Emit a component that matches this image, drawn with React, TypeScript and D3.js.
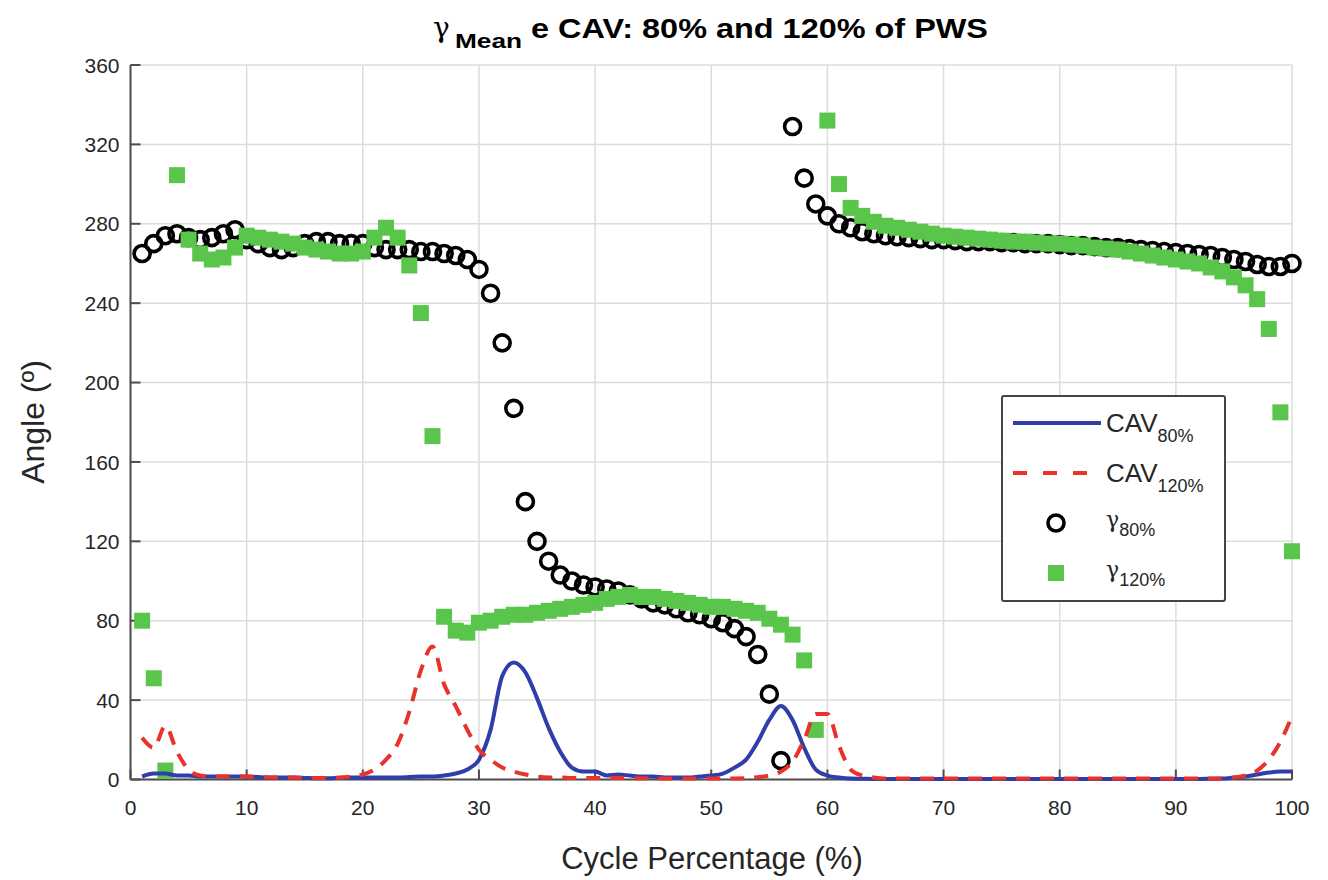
import React from "react";
import * as d3 from "d3";

const xTicks = [0, 10, 20, 30, 40, 50, 60, 70, 80, 90, 100];
const yTicks = [0, 40, 80, 120, 160, 200, 240, 280, 320, 360];

// cycle percentage 1..100
const cyclePct = d3.range(1, 101);

const cav80 = [
  1.5, 3, 3, 2, 2, 1.5, 1.5, 1.5, 1.5, 1.5,
  1.2, 1, 1, 1, 0.8, 0.6, 0.6, 0.8, 1, 1,
  1, 1, 1, 1.2, 1.5, 1.5, 2, 3, 5, 10,
  25, 52, 59, 54, 41, 26, 14, 6, 4, 4,
  2, 2.5, 2, 1.5, 1.5, 1, 1, 1, 1.5, 2,
  3, 6, 10, 19, 30, 37, 30, 16, 5, 2,
  1, 0.5, 0.4, 0.3, 0.3, 0.3, 0.3, 0.3, 0.3, 0.3,
  0.3, 0.3, 0.3, 0.3, 0.3, 0.3, 0.3, 0.3, 0.3, 0.3,
  0.3, 0.3, 0.3, 0.3, 0.3, 0.3, 0.3, 0.3, 0.3, 0.3,
  0.3, 0.3, 0.4, 0.5, 1, 1.5, 2.5, 3.5, 4, 4,
];

const cav120 = [
  21, 16, 27, 14, 5, 2, 1.5, 1.5, 1.5, 1.5,
  1.2, 1, 1, 1, 0.8, 0.8, 0.8, 1, 1.5, 2.5,
  5, 10, 18, 34, 55, 67, 48, 37, 25, 15,
  10, 6, 4, 2.5, 1.5, 1, 1, 0.8, 0.8, 0.8,
  0.8, 0.7, 0.7, 0.6, 0.6, 0.5, 0.5, 0.5, 0.5, 0.5,
  0.5, 0.5, 0.6, 1.2, 2, 4, 9, 20, 33, 33,
  17, 5, 2, 1, 0.5, 0.5, 0.5, 0.5, 0.5, 0.5,
  0.5, 0.5, 0.5, 0.5, 0.5, 0.5, 0.5, 0.5, 0.5, 0.5,
  0.5, 0.5, 0.5, 0.5, 0.5, 0.5, 0.5, 0.5, 0.5, 0.5,
  0.5, 0.5, 0.5, 0.5, 1, 2, 4.5, 10, 19, 32,
];

const gamma80 = [
  265, 270, 274, 275, 273, 272, 273, 275, 277, 272,
  270, 268, 267, 268, 270, 271, 271, 270, 270, 270,
  268, 267, 267, 267, 266, 266, 265, 264, 262, 257,
  245, 220, 187, 140, 120, 110, 103, 100, 98, 97,
  96, 95, 93, 91, 89, 88, 86, 84, 83, 81,
  79, 76, 72, 63, 43, 9.5, 329, 303, 290, 284,
  280, 278, 276, 275, 274, 273.5, 273, 272.5, 272, 272,
  271.5, 271, 271, 271, 270.5, 270.5, 270, 270, 270, 269.5,
  269, 269, 268.5, 268, 268, 267.5, 267, 266.5, 266, 265.5,
  265, 264.5, 264, 263, 262, 261, 259.5, 258.5, 258.5, 260,
];

const gamma120 = [
  80, 51, 4.5, 304.5, 272, 265, 262, 263, 268, 274,
  273, 272, 271, 270, 268, 267, 266, 265, 265, 266,
  273, 278, 273, 259, 235, 173, 82, 75, 74, 79,
  80, 82, 83, 83, 84, 85, 86, 87, 88, 89,
  91, 92, 93, 92, 92, 91, 90, 89, 88, 87,
  87, 86, 85, 84, 81, 78, 73, 60, 25, 332,
  300, 288, 284, 281, 279, 278, 277, 276, 275, 274,
  273.5, 273, 272.5, 272, 271.5, 271, 271, 270.5, 270, 270,
  269.5, 269, 268, 267.5, 267, 266, 265, 264, 263, 262,
  261, 260, 258, 256, 253, 249, 242, 227, 185, 115,
];

const BLUE = "#2f3ea8";
const RED = "#e8322b";
const GREEN = "#5ac54b";
const TXT = "#262626";

export default function App() {
  const x = d3.scaleLinear().domain([0, 100]).range([130.5, 1292]);
  const y = d3.scaleLinear().domain([0, 360]).range([779.5, 65]);

  const pts = (vals: number[]) => cyclePct.map((c, i) => [c, vals[i]] as [number, number]);
  const line = d3
    .line<[number, number]>()
    .x((d) => x(d[0]))
    .y((d) => y(d[1]))
    .curve(d3.curveMonotoneX);

  const font = "'Liberation Sans', Arial, sans-serif";
  const narrow = "'Liberation Sans Narrow', 'Arial Narrow', 'Liberation Sans', Arial, sans-serif";
  const serif = "'DejaVu Serif', 'Liberation Serif', serif";

  const lgX = 1002;
  const lgY = 396;
  const lgW = 223;
  const lgH = 205;
  const SQ = 16;

  return (
    <svg
      width={1328}
      height={880}
      style={{ position: "absolute", left: 0, top: 0, background: "#fff" }}
      fontFamily={font}
    >
      <rect x={0} y={0} width={1328} height={880} fill="#fff" />
      {/* grid */}
      <g stroke="#dcdcdc" strokeWidth={1.5}>
        {xTicks.map((t) => (
          <line key={"gx" + t} x1={x(t)} x2={x(t)} y1={y(360)} y2={y(0)} />
        ))}
        {yTicks.map((t) => (
          <line key={"gy" + t} x1={x(0)} x2={x(100)} y1={y(t)} y2={y(t)} />
        ))}
      </g>
      {/* axes */}
      <g stroke="#4d4d4d" strokeWidth={2}>
        <line x1={x(0)} x2={x(0)} y1={y(360)} y2={y(0)} />
        <line x1={x(0)} x2={x(100)} y1={y(0)} y2={y(0)} />
        {yTicks.map((t) => (
          <line key={"ty" + t} x1={x(0)} x2={x(0) + 10} y1={y(t)} y2={y(t)} />
        ))}
        {xTicks.map((t) => (
          <line key={"tx" + t} x1={x(t)} x2={x(t)} y1={y(0)} y2={y(0) - 10} />
        ))}
      </g>
      {/* tick labels */}
      <g fill={TXT} fontSize={21}>
        {yTicks.map((t) => (
          <text key={"ly" + t} x={x(0) - 11} y={y(t)} dy="0.36em" textAnchor="end">
            {t}
          </text>
        ))}
        {xTicks.map((t) => (
          <text key={"lx" + t} x={x(t)} y={y(0) + 35} textAnchor="middle">
            {t}
          </text>
        ))}
      </g>
      {/* axis labels */}
      <text x={712} y={869} textAnchor="middle" fontSize={31} fill={TXT}>
        Cycle Percentage (%)
      </text>
      <text
        transform={`translate(44,422) rotate(-90)`}
        textAnchor="middle"
        fontSize={32}
        fill={TXT}
      >
        Angle (º)
      </text>
      {/* title */}
      <g fill="#000" fontWeight="bold">
        <text x={433} y={37} fontSize={28} fontFamily={serif} fontWeight="normal">
          γ
        </text>
        <text x={455} y={48} fontSize={20} fontFamily={narrow} textLength={67} lengthAdjust="spacingAndGlyphs">
          Mean
        </text>
        <text x={531} y={38} fontSize={28} fontFamily={narrow} textLength={457} lengthAdjust="spacingAndGlyphs">
          e CAV: 80% and 120% of PWS
        </text>
      </g>
      {/* data */}
      <g>
        {cyclePct.map((c, i) => (
          <circle
            key={"c" + c}
            cx={x(c)}
            cy={y(gamma80[i])}
            r={8}
            fill="none"
            stroke="#000"
            strokeWidth={3.6}
          />
        ))}
        {cyclePct.map((c, i) => (
          <rect
            key={"s" + c}
            x={x(c) - SQ / 2}
            y={y(gamma120[i]) - SQ / 2}
            width={SQ}
            height={SQ}
            fill={GREEN}
          />
        ))}
        <path d={line(pts(cav80)) || ""} fill="none" stroke={BLUE} strokeWidth={4} />
        <path
          d={line(pts(cav120)) || ""}
          fill="none"
          stroke={RED}
          strokeWidth={4}
          strokeDasharray="14 10"
        />
      </g>
      {/* legend */}
      <g>
        <rect x={lgX} y={lgY} width={lgW} height={lgH} fill="#fff" stroke="#444" strokeWidth={2} rx={2} />
        <line x1={1013} x2={1101} y1={423} y2={423} stroke={BLUE} strokeWidth={4} />
        <line x1={1013} x2={1101} y1={473} y2={473} stroke={RED} strokeWidth={4} strokeDasharray="14 16" />
        <circle cx={1056} cy={523} r={8} fill="none" stroke="#000" strokeWidth={3.6} />
        <rect x={1048} y={565} width={SQ} height={SQ} fill={GREEN} />
        <g fill={TXT}>
          <text x={1106} y={432} fontSize={26}>
            CAV
            <tspan fontSize={18} dy={10}>80%</tspan>
          </text>
          <text x={1106} y={482} fontSize={26}>
            CAV
            <tspan fontSize={18} dy={10}>120%</tspan>
          </text>
          <text x={1106} y={527} fontSize={22} fontFamily={serif}>
            γ
            <tspan fontSize={18} dy={9} fontFamily={font}>80%</tspan>
          </text>
          <text x={1106} y={577} fontSize={22} fontFamily={serif}>
            γ
            <tspan fontSize={18} dy={9} fontFamily={font}>120%</tspan>
          </text>
        </g>
      </g>
    </svg>
  );
}
